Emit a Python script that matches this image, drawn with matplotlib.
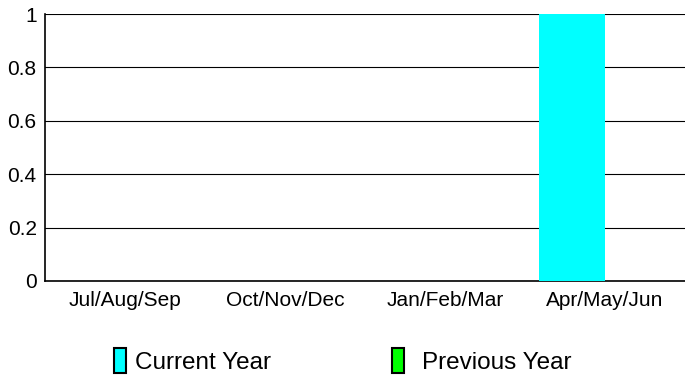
import numpy as np
import matplotlib
matplotlib.use("Agg")
import matplotlib.pyplot as plt
from matplotlib.patches import Patch

plt.rcParams['font.family'] = ['Liberation Sans', 'DejaVu Sans']

quarters = ['Jul/Aug/Sep', 'Oct/Nov/Dec', 'Jan/Feb/Mar', 'Apr/May/Jun']
current_year = [0, 0, 0, 1]
previous_year = [0, 0, 0, 0]
yticks = [0, 0.2, 0.4, 0.6, 0.8, 1]
yticklabels = ['0', '0.2', '0.4', '0.6', '0.8', '1']

fig = plt.figure(figsize=(6.85, 3.77), dpi=100)
ax = fig.add_axes([45/685, 1 - 281/377, 640/685, 267/377])

x = np.arange(len(quarters))
w = 0.4125
ax.bar(x - w/2, current_year, w, color='#00ffff', label='Current Year', zorder=3)
ax.bar(x + w/2, previous_year, w, color='#00ff00', label='Previous Year', zorder=3)

ax.set_xlim(-0.5, 3.5)
ax.set_ylim(0, 1)
ax.set_xticks(x)
ax.set_xticklabels(quarters, fontsize=15)
ax.set_yticks(yticks)
ax.set_yticklabels(yticklabels, fontsize=15)
ax.tick_params(axis='x', length=0, pad=7)
ax.tick_params(axis='y', length=0, pad=6)
ax.yaxis.grid(True, color='black', linewidth=0.8, zorder=0)
for s in ['top', 'right']:
    ax.spines[s].set_visible(False)
ax.spines['left'].set_linewidth(1.2)
ax.spines['bottom'].set_linewidth(1.2)

# legend: one entry each, placed separately (fig.legend keeps both)
cur = Patch(facecolor='#00ffff', edgecolor='black', linewidth=1.5, label='Current Year')
prev = Patch(facecolor='#00ff00', edgecolor='black', linewidth=1.5, label='Previous Year')
fig.legend(handles=[cur], loc='center left', bbox_to_anchor=(114/685, 1 - 361/377),
           frameon=False, fontsize=17.5, handlelength=0.5, handleheight=1.2,
           handletextpad=0.35, borderaxespad=0, borderpad=0)
fig.legend(handles=[prev], loc='center left', bbox_to_anchor=(392/685, 1 - 361/377),
           frameon=False, fontsize=17.5, handlelength=0.5, handleheight=1.2,
           handletextpad=0.72, borderaxespad=0, borderpad=0)

fig.savefig('out.png', dpi=100)
